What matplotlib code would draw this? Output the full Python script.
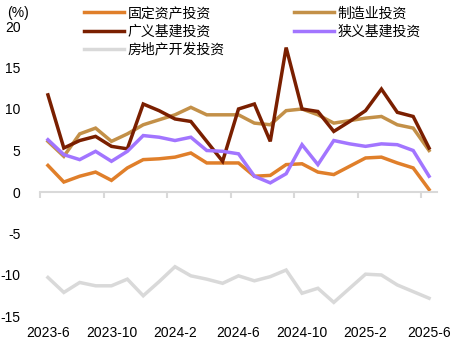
import numpy as np
import pandas as pd
import matplotlib
matplotlib.use("Agg")
import matplotlib.pyplot as plt
from matplotlib.transforms import blended_transform_factory

plt.rcParams['font.family'] = ['Liberation Sans', 'Noto Sans CJK SC', 'DejaVu Sans']
plt.rcParams['axes.unicode_minus'] = False

# 月度累计同比, 2023-6 ~ 2025-6
months = pd.period_range("2023-06", "2025-06", freq="M")
tick_labels = ["2023-6", "2023-10", "2024-2", "2024-6", "2024-10", "2025-2", "2025-6"]

fai = [3.2, 1.2, 1.9, 2.4, 1.4, 2.9, 3.9, 4.0, 4.2, 4.7, 3.5, 3.5, 3.5,
       1.9, 2.0, 3.3, 3.4, 2.4, 2.1, 3.1, 4.1, 4.2, 3.5, 2.9, 0.3]
manu = [6.1, 4.3, 7.0, 7.7, 6.1, 7.0, 8.1, 8.7, 9.3, 10.2, 9.3, 9.3, 9.3,
        8.3, 8.1, 9.8, 10.0, 9.3, 8.3, 8.6, 8.9, 9.1, 8.1, 7.7, 5.0]
infra_broad = [11.7, 5.3, 6.2, 6.7, 5.5, 5.2, 10.6, 9.8, 8.8, 8.5, 6.1, 3.7, 10.0,
               10.6, 6.1, 17.4, 10.0, 9.7, 7.3, 8.5, 9.8, 12.4, 9.6, 9.1, 5.3]
infra_narrow = [6.3, 4.5, 3.9, 4.9, 3.7, 4.9, 6.8, 6.6, 6.2, 6.6, 5.0, 4.9, 4.6,
                1.9, 1.1, 2.2, 5.7, 3.3, 6.2, 5.8, 5.5, 5.8, 5.7, 5.0, 1.9]
realestate = [-10.3, -12.1, -10.9, -11.3, -11.3, -10.5, -12.5, -10.8, -9.0, -10.1, -10.5, -11.0, -10.1,
              -10.7, -10.2, -9.4, -12.2, -11.6, -13.3, -11.6, -9.9, -10.0, -11.2, -12.0, -12.8]

series = [
    ("固定资产投资", fai, "#E07F2A"),
    ("制造业投资", manu, "#C39048"),
    ("广义基建投资", infra_broad, "#7A1F00"),
    ("狭义基建投资", infra_narrow, "#A275FF"),
    ("房地产开发投资", realestate, "#D9D9D9"),
]

fig = plt.figure(figsize=(4.66, 3.44), dpi=100)
ax = fig.add_axes([40 / 466, 1 - 316.5 / 344, 397 / 466, 290.5 / 344])

x = np.arange(len(months))
handles = {}
for name, vals, color in series:
    (ln,) = ax.plot(x, vals, color=color, lw=2.5, solid_joinstyle="miter")
    handles[name] = ln

ax.set_xlim(-0.5, len(months) - 0.5)
ax.set_ylim(-15, 20)
ax.set_yticks(np.arange(-15, 21, 5))
ax.tick_params(axis="y", length=0, pad=14, labelsize=10)

# 横轴画在 0 处, 刻度在分类边界
for s in ["top", "right", "left"]:
    ax.spines[s].set_visible(False)
ax.spines["bottom"].set_position(("data", 0))
ax.spines["bottom"].set_color("#D9D9D9")
ax.spines["bottom"].set_linewidth(1.5)
ax.set_xticks(np.arange(-0.5, len(months) - 0.5, 4))
ax.tick_params(axis="x", length=4, width=1.5, color="#D9D9D9", labelbottom=False)

trans = blended_transform_factory(ax.transData, ax.transAxes)
for i, lab in zip(range(0, len(months), 4), tick_labels):
    ax.text(i, -0.057, lab, transform=trans, ha="center", va="center", fontsize=10)

fig.text(18 / 466, 1 - 13 / 344, "(%)", ha="center", va="center", fontsize=10)

order = ["固定资产投资", "广义基建投资", "房地产开发投资", "制造业投资", "狭义基建投资"]
fig.legend([handles[n] for n in order], order, ncol=2, frameon=False,
           loc="upper left", bbox_to_anchor=(74 / 466, 1.01), fontsize=10,
           handlelength=2.9, handletextpad=0.25, columnspacing=5.0,
           labelspacing=0.3, borderpad=0.2)

fig.savefig("out.png", dpi=100)
